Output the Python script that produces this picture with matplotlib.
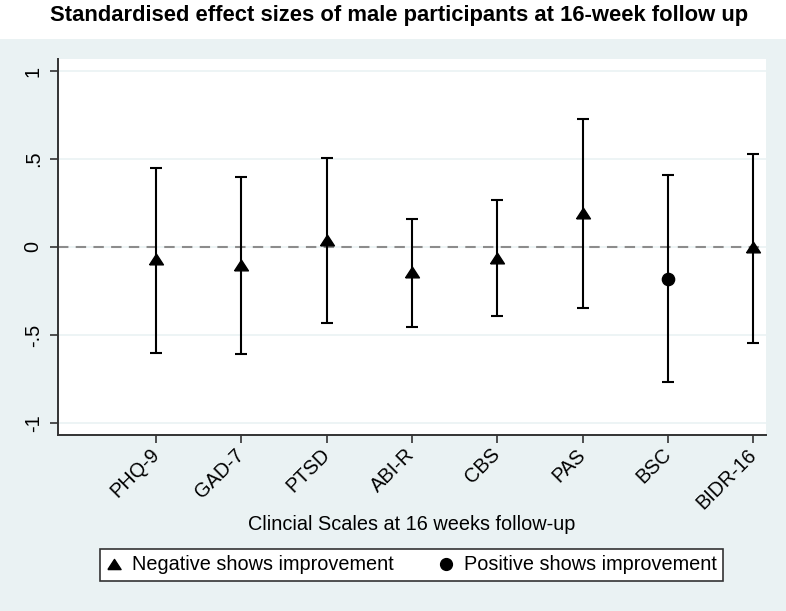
import matplotlib
matplotlib.use("Agg")
import matplotlib.pyplot as plt
from matplotlib.lines import Line2D
import numpy as np

plt.rcParams['font.family'] = ['Liberation Sans', 'DejaVu Sans']

# data
scales = ["PHQ-9", "GAD-7", "PTSD", "ABI-R", "CBS", "PAS", "BSC", "BIDR-16"]
effect = [-0.07, -0.10, 0.04, -0.14, -0.06, 0.195, -0.18, 0.0]
lower = [-0.60, -0.61, -0.43, -0.455, -0.39, -0.345, -0.765, -0.545]
upper = [0.447, 0.40, 0.505, 0.16, 0.265, 0.725, 0.41, 0.527]
positive_better = [False, False, False, False, False, False, True, False]

bg = "#eaf2f3"
fs = 14.3

# Stata-like triangle: a bit flatter than matplotlib's '^'
tri = [(-1, -0.77), (1, -0.77), (0, 0.77), (-1, -0.77)]

fig = plt.figure(figsize=(7.86, 6.11), dpi=100)
fig.patch.set_facecolor(bg)
# white strip behind the title
fig.patches.append(plt.Rectangle((0, 1 - 39 / 611), 1, 39 / 611, transform=fig.transFigure,
                                 facecolor="white", edgecolor="none", zorder=0))

ax = fig.add_axes([58 / 786, 176 / 611, 708 / 786, 376 / 611])
ax.set_facecolor("white")

x = np.arange(1, len(scales) + 1)
eff = np.array(effect)
lo = np.array(lower)
hi = np.array(upper)

ax.errorbar(x, eff, yerr=[eff - lo, hi - eff], fmt="none", ecolor="black",
            elinewidth=1.5, capsize=4.3, capthick=1.5, zorder=3)
for xi, e, pos in zip(x, eff, positive_better):
    ax.plot(xi, e, marker="o" if pos else tri, color="black", markersize=8.8 if pos else 10,
            linestyle="none", zorder=4)

ax.axhline(0, color="#8c8c8c", linestyle=(0, (5, 3.5)), linewidth=1.5, zorder=2)

ax.set_xlim(-0.15, 8.15)
ax.set_ylim(-1.068, 1.068)
yt = [-1, -0.5, 0, 0.5, 1]
ax.set_yticks(yt)
ax.set_yticklabels(["-1", "-.5", "0", ".5", "1"], rotation=90, va="center", fontsize=fs)
ax.yaxis.grid(True, color=bg, linewidth=1.2)
ax.set_axisbelow(True)

ax.set_xticks(x)
ax.set_xticklabels(scales, rotation=45, ha="right", va="center", rotation_mode="anchor",
                   fontsize=fs)
ax.tick_params(axis="both", direction="out", length=6, width=1.2, color="#333333", pad=5)
ax.tick_params(axis="x", pad=6)

for s in ["top", "right"]:
    ax.spines[s].set_visible(False)
for s in ["left", "bottom"]:
    ax.spines[s].set_color("#333333")
    ax.spines[s].set_linewidth(1.4)

fig.text(412 / 786, 1 - 525 / 611, "Clincial Scales at 16 weeks follow-up",
         ha="center", va="center", fontsize=fs)

fig.text(399 / 786, 1 - 15 / 611, "Standardised effect sizes of male participants at 16-week follow up",
         ha="center", va="center", fontsize=15.8, fontweight="bold")

handles = [Line2D([], [], marker=tri, color="black", linestyle="none", markersize=9.5),
           Line2D([], [], marker="o", color="black", linestyle="none", markersize=8.5)]
leg = fig.legend(handles, ["Negative shows improvement", "Positive shows improvement"],
                 loc="center", bbox_to_anchor=(411.5 / 786, 1 - 565 / 611), ncol=2,
                 frameon=True, fancybox=False, framealpha=1, fontsize=fs, handlelength=0.8,
                 handletextpad=0.5, columnspacing=2.2, borderpad=0.35, borderaxespad=0)
leg.get_frame().set_edgecolor("#333333")
leg.get_frame().set_facecolor("white")
leg.get_frame().set_linewidth(1.2)

fig.savefig("out.png", dpi=100, facecolor=fig.get_facecolor())
